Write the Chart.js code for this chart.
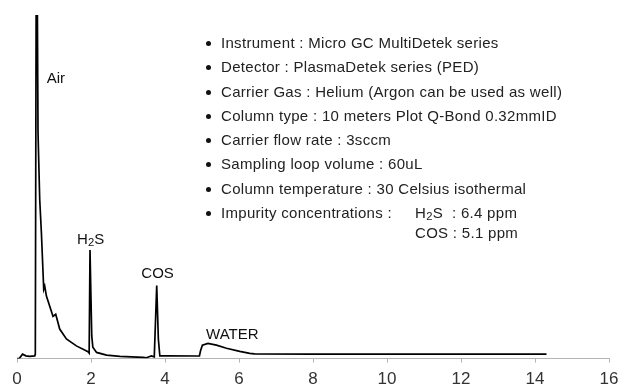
<!DOCTYPE html>
<html>
<head>
<meta charset="utf-8">
<script src="https://cdn.jsdelivr.net/npm/chart.js@4"></script>
<style>
  html, body { margin: 0; padding: 0; background: #fff; }
  #wrap { position: relative; width: 625px; height: 388px; }
  #gc { display: block; }
  .notes {
    position: absolute; left: 203px; top: 31px;
    font-family: "Liberation Sans", Arial, sans-serif; font-size: 15px; letter-spacing: 0.3px; color: #222;
    line-height: 24.3px; white-space: nowrap;
  }
  .notes .row { position: relative; padding-left: 18px; }
  .notes .row::before {
    content: ''; position: absolute; left: 3px; top: 10px;
    width: 5px; height: 5px; border-radius: 50%; background: #111;
  }
  .notes .conc { position: absolute; left: 212px; top: 0; line-height: 20px; padding-top: 2px; }
  .peak {
    position: absolute; transform: translate(-50%, -50%);
    font-family: "Liberation Sans", Arial, sans-serif; font-size: 15px; color: #111; white-space: nowrap;
  }
  sub { font-size: 0.75em; vertical-align: -0.2em; line-height: 0; }
</style>
</head>
<body>
<div id="wrap">
  <canvas id="gc" width="625" height="388"></canvas>
  <div class="notes">
    <div class="row">Instrument : Micro GC MultiDetek series</div>
    <div class="row">Detector : PlasmaDetek series (PED)</div>
    <div class="row">Carrier Gas : Helium (Argon can be used as well)</div>
    <div class="row">Column type : 10 meters Plot Q-Bond 0.32mmID</div>
    <div class="row">Carrier flow rate : 3sccm</div>
    <div class="row">Sampling loop volume : 60uL</div>
    <div class="row">Column temperature : 30 Celsius isothermal</div>
    <div class="row">Impurity concentrations :
      <div class="conc">H<sub>2</sub>S&nbsp; : 6.4 ppm<br>COS : 5.1 ppm</div>
    </div>
  </div>
</div>
<script>
// ── chromatogram trace (minutes / detector response) ──
const timeMin = [
  0.00, 0.06, 0.15, 0.24, 0.34, 0.48, 0.495, 0.52, 0.551, 0.568, 0.614, 0.659,
  0.722, 0.749, 0.795, 0.973, 1.046, 1.081, 1.154, 1.335, 1.605, 1.919,
  1.95, 1.973, 2.02, 2.05, 2.15, 2.42, 2.78, 3.41, 3.50, 3.63, 3.71, 3.776,
  3.82, 3.86, 4.04, 4.85, 4.93, 4.96, 5.01, 5.16, 5.39, 5.66, 6.02, 6.29,
  6.42, 8.00, 10.00, 12.00, 14.31
];
const signal = [
  0.0, 0.0, 1.3, 0.8, 0.65, 0.8, 1.3, 115, 100, 65.7, 46.3, 36.7,
  20.2, 21.1, 18.2, 12.3, 12.9, 11.5, 8.6, 5.7, 3.7, 2.0,
  1.6, 31.6, 6.6, 3.3, 1.8, 1.0, 0.65, 0.35, 0.25, 0.8, 0.5, 21.3,
  5.7, 0.8, 0.8, 0.75, 0.8, 2.3, 3.9, 4.4, 3.9, 3.0, 2.1, 1.5,
  1.35, 1.3, 1.3, 1.3, 1.3
];
const xTicks = [0, 2, 4, 6, 8, 10, 12, 14, 16];

// peak names with the time / response they sit at
const peakNames = ['Air', 'H<sub>2</sub>S', 'COS', 'WATER'];
const peakTime  = [1.05, 1.99, 3.80, 5.82];
const peakLevel = [82.1, 35.0, 25.1, 7.4];

const wrap = document.getElementById('wrap');
const peakEls = peakNames.map(n => {
  const d = document.createElement('div');
  d.className = 'peak';
  d.innerHTML = n;
  wrap.appendChild(d);
  return d;
});

const peakLabels = {
  id: 'peakLabels',
  afterDraw(chart) {
    const { x, y } = chart.scales;
    peakEls.forEach((el, i) => {
      el.style.left = x.getPixelForValue(peakTime[i]) + 'px';
      el.style.top  = y.getPixelForValue(peakLevel[i]) + 'px';
    });
  }
};

new Chart(document.getElementById('gc'), {
  type: 'line',
  data: {
    datasets: [{
      data: timeMin.map((t, i) => ({ x: t, y: signal[i] })),
      borderColor: '#000',
      borderWidth: 1.7,
      pointRadius: 0,
      tension: 0,
      fill: false
    }]
  },
  options: {
    responsive: false,
    animation: false,
    events: [],
    layout: { padding: { left: 17, right: 14, top: 15, bottom: -8 } },
    plugins: { legend: { display: false }, tooltip: { enabled: false } },
    scales: {
      x: {
        type: 'linear', min: 0, max: 16,
        afterBuildTicks: s => { s.ticks = xTicks.map(v => ({ value: v })); },
        grid: { drawOnChartArea: false, tickLength: 4, color: '#b4b4b4' },
        border: { color: '#b4b4b4', width: 1 },
        ticks: { color: '#333', padding: 6.5, font: { family: 'Liberation Sans', size: 17 } }
      },
      y: { display: false, min: 0, max: 100 }
    }
  },
  plugins: [peakLabels]
});
</script>
</body>
</html>
